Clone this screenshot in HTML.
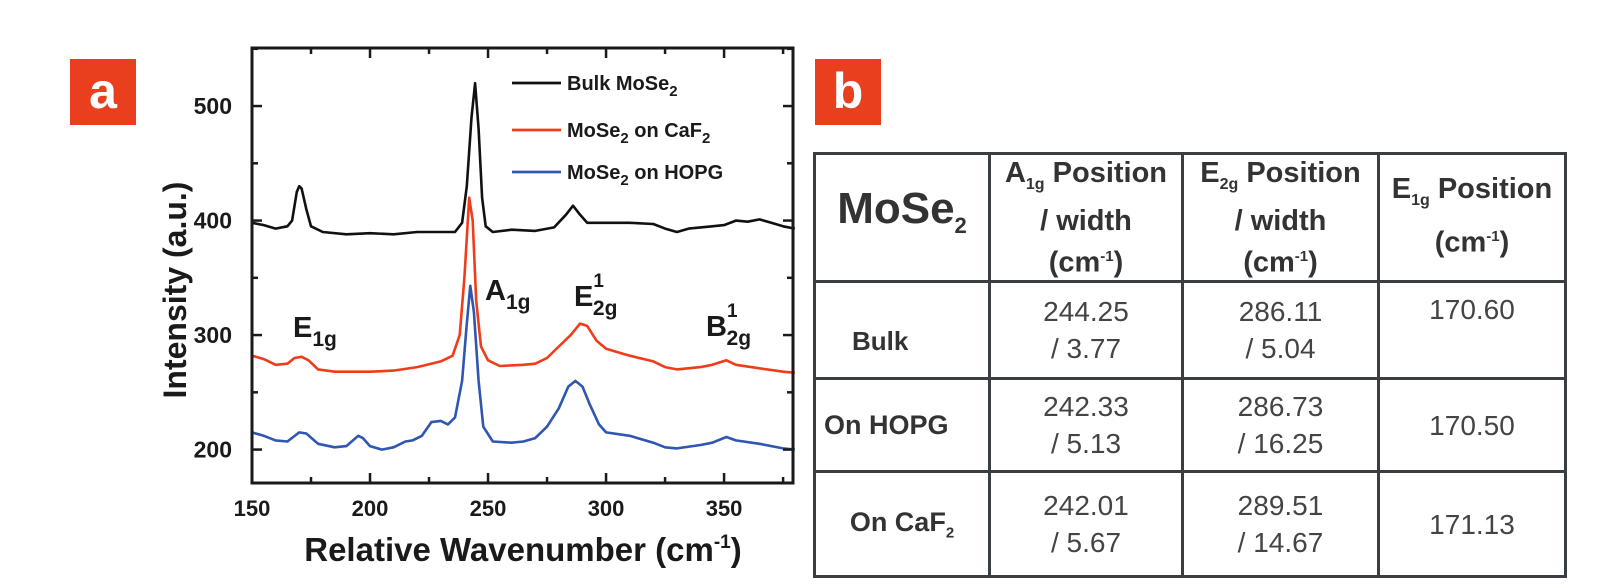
<!DOCTYPE html>
<html><head><meta charset="utf-8">
<style>
body{margin:0;background:#fff;width:1616px;height:588px;overflow:hidden;font-family:"Liberation Sans",Arial,sans-serif;}
.badge{position:absolute;background:#ea3f1f;color:#fff;font-weight:bold;font-size:50px;text-align:center;line-height:64px;}
table{position:absolute;left:813px;top:152px;border-collapse:collapse;color:#333;table-layout:fixed;}
td{border:3px solid #3a3d42;text-align:center;padding:0;}
.h{font-weight:bold;font-size:29px;line-height:36px;color:#333;}
.v{font-size:28px;line-height:37px;color:#444;}
.r{font-weight:bold;font-size:26px;color:#333;}
</style></head><body>
<div class="badge" style="left:70px;top:59px;width:66px;height:66px;">a</div>
<div class="badge" style="left:815px;top:59px;width:66px;height:66px;">b</div>
<svg id="chart" width="810" height="588" style="position:absolute;left:0;top:0" font-family="Liberation Sans, Arial, sans-serif"></svg>
<table>
<colgroup><col style="width:175px"><col style="width:193px"><col style="width:196px"><col style="width:187px"></colgroup>
<tr style="height:121px">
<td class="h"><span style="font-size:44px">MoSe<sub style="font-size:22px">2</sub></span></td>
<td class="h">A<sub style="font-size:16px">1g</sub> Position<br>/ width<br>(cm<sup style="font-size:15px">-1</sup>)</td>
<td class="h">E<sub style="font-size:16px">2g</sub> Position<br>/ width<br>(cm<sup style="font-size:15px">-1</sup>)</td>
<td class="h" style="vertical-align:top;padding-top:16px">E<sub style="font-size:16px">1g</sub> Position<br>(cm<sup style="font-size:15px">-1</sup>)</td>
</tr>
<tr style="height:97px">
<td class="r" style="padding-top:22px;text-align:left;padding-left:36px">Bulk</td>
<td class="v">244.25<br>/ 3.77</td>
<td class="v">286.11<br>/ 5.04</td>
<td class="v" style="vertical-align:top;padding-top:8px">170.60</td>
</tr>
<tr style="height:93px">
<td class="r" style="font-size:27px;text-align:left;padding-left:8px">On HOPG</td>
<td class="v">242.33<br>/ 5.13</td>
<td class="v">286.73<br>/ 16.25</td>
<td class="v">170.50</td>
</tr>
<tr style="height:105px">
<td class="r" style="font-size:27px">On CaF<sub style="font-size:15px">2</sub></td>
<td class="v">242.01<br>/ 5.67</td>
<td class="v">289.51<br>/ 14.67</td>
<td class="v">171.13</td>
</tr>
</table>
<script>
const bulkX=[150,155,160,165,167,169,170,171,173,175,180,190,200,210,220,230,236,239,241,243,244.5,246,247.5,249,252,260,270,278,283,286,289,292,300,310,320,325,330,335,345,350,355,360,365,370,375,380];
const bulkY=[398,396,393,395,400,425,430,428,410,395,390,388,389,388,390,390,390,398,430,490,520,480,420,395,390,392,391,394,405,413,405,398,398,398,397,393,390,393,395,396,400,399,401,398,395,393];
const cafX=[150,155,160,165,168,171,174,178,185,200,210,220,230,235,238,240,242,243.5,245,247,250,255,265,270,275,280,285,289,292,296,300,310,320,325,330,340,345,351,355,365,375,380];
const cafY=[282,279,274,275,280,281,278,270,268,268,269,272,277,282,300,350,420,400,330,290,278,273,274,275,280,290,300,310,308,295,288,282,277,272,270,272,274,278,274,271,268,267];
const hopgX=[150,155,160,165,170,173,178,185,190,195,197,200,205,210,215,218,222,226,230,233,236,239,241,242.5,244,246,248,252,260,265,270,275,280,284,287,290,293,297,300,310,320,325,330,340,345,351,355,365,375,380];
const hopgY=[215,212,208,207,215,214,205,202,203,212,210,203,200,202,207,208,212,224,225,222,228,260,310,343,320,260,220,207,206,207,210,220,236,255,260,255,240,222,215,212,206,202,201,204,206,211,208,205,201,200];
const xTicks=[150,200,250,300,350];
const yTicks=[200,300,400,500];
const L=252,R=793,T=48,B=483,X0=150,X1=379.2,Y0=170.8,Y1=550.7;
const sx=v=>L+(v-X0)/(X1-X0)*(R-L);
const sy=v=>B-(v-Y0)/(Y1-Y0)*(B-T);
const svg=document.getElementById('chart');
const NS='http://www.w3.org/2000/svg';
function mk(t,a){const e=document.createElementNS(NS,t);for(const k in a)e.setAttribute(k,a[k]);svg.appendChild(e);return e;}
function txt(x,y,html,size,extra){const e=mk('text',Object.assign({x:x,y:y,'font-size':size,'font-weight':'bold',fill:'#1a1a1a'},extra||{}));e.innerHTML=html;return e;}
function series(xs,ys,col,name){const d=xs.map((x,i)=>(i?'L':'M')+sx(x).toFixed(1)+','+sy(ys[i]).toFixed(1)).join('');
 const p=mk('path',{d:d,fill:'none',stroke:col,'stroke-width':2.6,'stroke-linejoin':'round'});
 
 }
series(bulkX,bulkY,'#111','bulk-mose2-line');
series(cafX,cafY,'#f03c1a','caf2-mose2-line');
series(hopgX,hopgY,'#2f56b0','hopg-mose2-line');
const fr=mk('rect',{x:L,y:T,width:R-L,height:B-T,fill:'none',stroke:'#1a1a1a','stroke-width':3});


for(let v=150;v<=375;v+=25){const maj=v%50==0;const x=sx(v);
 mk('line',{x1:x,x2:x,y1:B,y2:B-(maj?10:6),stroke:'#1a1a1a','stroke-width':2.5});
 mk('line',{x1:x,x2:x,y1:T,y2:T+(maj?10:6),stroke:'#1a1a1a','stroke-width':2.5});}
for(let v=200;v<=550;v+=50){const maj=v%100==0;const y=sy(v);
 mk('line',{x1:L,x2:L+(maj?10:6),y1:y,y2:y,stroke:'#1a1a1a','stroke-width':2.5});
 mk('line',{x1:R,x2:R-(maj?10:6),y1:y,y2:y,stroke:'#1a1a1a','stroke-width':2.5});}
xTicks.forEach(v=>{const t=txt(sx(v),516,v,22,{'text-anchor':'middle'});
 
 });
yTicks.forEach(v=>{const t=txt(232,sy(v)+8,v,23,{'text-anchor':'end'});
 
 });
const xl=txt(523,561,'Relative Wavenumber (cm<tspan dy="-13" font-size="19">-1</tspan><tspan dy="13">)</tspan>',33,{'text-anchor':'middle'});


const yl=txt(0,0,'Intensity (a.u.)',32,{'text-anchor':'middle',transform:'translate(186,290) rotate(-90)'});


const leg=[['#111','Bulk MoSe<tspan dy="6" font-size="15">2</tspan>',83],['#f03c1a','MoSe<tspan dy="6" font-size="15">2</tspan><tspan dy="-6"> on CaF</tspan><tspan dy="6" font-size="15">2</tspan>',130],['#2f56b0','MoSe<tspan dy="6" font-size="15">2</tspan><tspan dy="-6"> on HOPG</tspan>',172]];
leg.forEach(l=>{const ln=mk('line',{x1:512,x2:561,y1:l[2],y2:l[2],stroke:l[0],'stroke-width':2.8});
 
 
 const t=txt(567,l[2]+7,l[1],20);
 
 });
const pk=[[293,337,'E<tspan dy="9" font-size="21">1g</tspan>'],[485,300,'A<tspan dy="9" font-size="21">1g</tspan>'],[574,306,'E<tspan dy="-19" font-size="19">1</tspan><tspan dx="-11" dy="28" font-size="21">2g</tspan>'],[706,336,'B<tspan dy="-19" font-size="19">1</tspan><tspan dx="-11" dy="28" font-size="21">2g</tspan>']];
pk.forEach(p=>{const t=txt(p[0],p[1],p[2],29);
 
 });
</script>
</body></html>
